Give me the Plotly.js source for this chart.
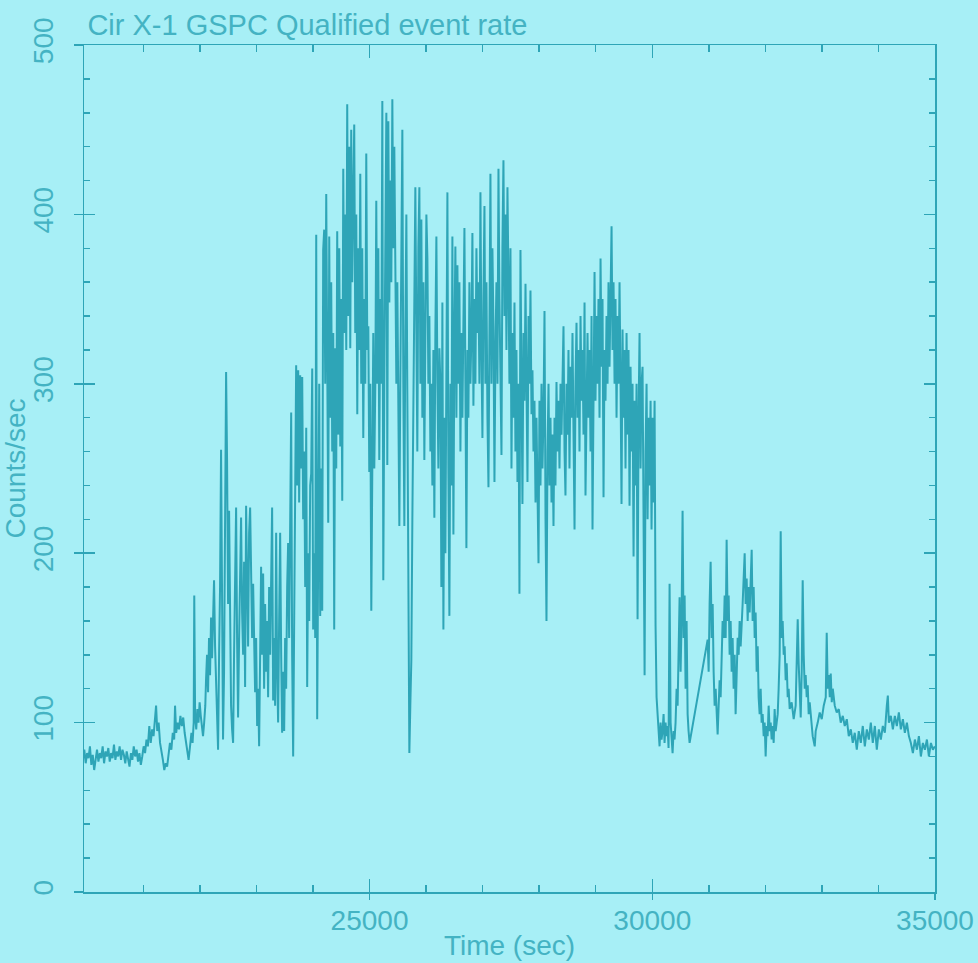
<!DOCTYPE html>
<html>
<head>
<meta charset="utf-8">
<script src="https://cdn.plot.ly/plotly-3.0.1.min.js"></script>
<style>
  html, body { margin: 0; padding: 0; background: #a7eff6; }
  #chart { width: 978px; height: 963px; }
</style>
</head>
<body>
<div id="chart"></div>
<script>
// ---- Data (time in s, rate in counts/s) ----
const timeQuiet = [19930,19955,19980,20005,20030,20055,20080,20105,20130,20155,
20180,20205,20230,20255,20280,20305,20330,20355,20380,20405,
20430,20455,20480,20505,20530,20555,20580,20605,20630,20655,
20680,20705,20730,20755,20780,20805,20830,20855,20880,20905,
20930,20955,20980,21005,21030,21055,21080,21105,21130,21155,
21180,21205,21225,21245,21270,21295,21320,21345,21370,21395,
21420,21445,21470,21495,21520,21545,21560,21580,21605,21630,
21655,21680,21705,21730,21755,21780,21800,21825,21850,21870,
21890,21900,21915,21935,21955,21975,21995,22015,22035,22055,
22075,22095];
const rateQuiet = [78,84,76,82,79,86,75,81,72,80,
84,77,82,79,86,76,83,80,85,77,
82,79,87,78,83,80,86,78,84,81,
76,83,79,74,82,78,86,80,84,77,
82,75,80,86,82,90,86,98,88,96,
92,104,110,95,100,88,84,78,72,76,
74,80,88,84,94,90,110,94,100,96,
104,98,103,94,88,80,78,86,94,88,
100,175,104,96,108,100,112,104,96,92,
100,110];

const timeRise = [22108,22126,22144,22161,22179,22197,22215,22232,22250,22268,
22285,22303,22321,22339,22356,22374,22392,22409,22427,22445,
22463,22480,22498,22516,22534,22551,22569,22587,22604,22622,
22640,22657,22675,22693,22711,22728,22746,22764,22781,22799,
22817,22834,22852,22870,22888,22905,22923,22941,22958,22976,
22994,23012,23029,23047,23065,23082,23100,23118,23135,23153,
23171,23189,23206,23224,23242,23259,23277,23295,23313,23330,
23348,23366,23383,23401,23419,23437,23454,23472,23490,23507,
23525,23543,23560,23578,23596,23614,23631,23649,23667,23685,
23702,23720,23738,23755,23773,23791,23809,23826,23844,23862];
const rateRise = [125,140,118,150,128,162,138,170,184,145,
120,100,84,140,180,261,150,90,130,200,
307,255,170,225,150,110,96,88,140,195,
227,150,103,150,185,221,165,140,195,121,
228,180,145,212,227,190,150,182,140,118,
150,98,120,86,140,192,140,188,120,170,
130,160,115,180,140,190,227,113,150,110,
212,130,100,160,212,140,94,130,95,150,
120,180,206,150,200,283,140,80,160,250,
311,240,308,230,305,250,304,220,260,180];

const timeFlare = [23880,23897,23915,23933,23950,23968,23986,24003,24021,24039,
24057,24074,24092,24110,24127,24145,24163,24180,24198,24216,
24234,24251,24269,24287,24304,24322,24340,24358,24375,24393,
24411,24428,24446,24464,24482,24499,24517,24535,24552,24570,
24588,24605,24623,24641,24659,24676,24694,24712,24729,24747,
24765,24783,24800,24818,24836,24853,24871,24889,24907,24924,
24942,24960,24978,24995,25013,25031,25048,25066,25084,25102,
25119,25137,25155,25172,25190,25208,25226,25243,25261,25279,
25297,25314,25332,25350,25367,25385,25403,25420,25438,25456,
25474,25491,25509,25527,25544,25562,25580,25597,25615,25633,
25651,25668,25686,25704,25721,25739,25757,25775,25792,25810,
25828,25845,25863,25881,25899,25916,25934,25952,25969,25987,
26005,26023,26040,26058,26076,26093,26111,26129,26146,26164,
26182,26200,26217,26235,26253,26270,26288,26306,26324,26341];
const rateFlare = [274,121,200,160,240,247,309,155,200,150,
388,102,200,300,163,250,166,379,391,300,
412,330,218,387,280,360,260,330,155,321,
250,390,270,380,263,350,231,427,330,400,
320,465,340,440,321,450,360,410,453,330,
400,282,380,320,424,300,380,268,350,300,
436,320,334,248,300,166,280,330,250,300,
408,300,380,255,350,300,467,184,300,380,
460,252,455,348,420,360,468,380,440,370,
300,360,250,216,300,380,450,300,216,330,
400,295,160,82,110,137,220,300,360,416,
330,260,380,416,300,397,280,360,255,340,
400,374,300,340,260,300,240,320,221,330,
387,300,250,321,300,180,348,155,280,200];

const timePlateau = [26359,26377,26394,26412,26430,26447,26465,26483,26501,26518,
26536,26554,26571,26589,26607,26625,26642,26660,26678,26695,
26713,26731,26748,26766,26784,26802,26819,26837,26855,26872,
26890,26908,26925,26943,26961,26979,26996,27014,27032,27049,
27067,27085,27103,27120,27138,27156,27173,27191,27209,27226,
27244,27262,27280,27297,27315,27333,27350,27368,27386,27403,
27421,27439,27457,27474,27492,27510,27527,27545,27563,27580,
27598,27616,27634,27651,27669,27687,27704,27722,27740,27758,
27775,27793,27811,27828,27846,27864,27881,27899,27917,27935,
27952,27970,27988,28005,28023,28041,28058,28076,28094,28112,
28129,28147,28165,28182,28200,28218,28235,28253,28271,28288,
28306,28324,28341,28359,28377,28395,28412,28430,28448,28465,
28483,28501,28518,28536,28554,28572,28589,28607,28625,28642,
28660,28678,28695,28713,28731,28749,28766,28784,28802,28819,
28837,28855,28872,28890,28908,28926,28943,28961,28979,28996,
29014,29032,29049,29067,29085,29103,29120,29138,29156,29173,
29191,29209,29226,29244,29262,29280,29297,29315,29333,29350,
29368,29386,29403,29421,29439,29456,29474,29492,29510,29527,
29545,29563,29580,29598,29616,29633,29651,29669,29686,29704,
29722,29740,29757,29775,29793,29810,29828,29846,29864,29881,
29899,29917,29934,29952,29970,29987,30005,30023,30041,30058];
const ratePlateau = [320,413,250,163,300,240,387,211,330,381,
280,370,300,360,260,330,280,340,392,300,
203,320,280,360,300,330,389,287,350,300,
380,330,360,300,413,320,268,350,405,300,
360,280,239,330,424,300,380,334,242,320,
360,300,427,350,300,258,380,432,340,400,
320,416,360,300,380,250,330,280,348,260,
320,242,300,176,379,300,229,330,290,359,
300,242,340,300,355,282,308,260,290,230,
280,216,194,290,240,300,250,280,343,220,
160,260,300,240,280,230,270,216,280,240,
301,260,290,250,300,270,310,334,260,234,
300,270,320,250,310,280,330,260,214,300,
336,280,320,260,340,290,320,270,348,234,
300,330,280,320,260,340,214,300,366,290,
340,300,350,280,374,310,350,233,320,290,
340,300,360,310,350,393,320,360,300,350,
280,340,300,360,300,229,332,280,320,250,
330,270,320,228,310,260,300,198,290,240,
300,161,280,330,250,300,310,230,128,260,
300,220,280,240,290,214,280,230,290,157];

const timeDecay = [30076,30094,30111,30129,30147,30164,30182,30200,30217,30235,
30253,30271,30288,30306,30324,30341,30359,30377,30394,30412,
30430,30448,30465,30483,30501,30518,30536,30554,30572,30589,
30607,30625,30642,30660,30979,30997,31014,31032,
31050,31068,31085,31103,31121,31138,31156,31174,31191,31209,
31227,31244,31262,31280,31298,31315,31333,31351,31368,31386,
31404,31421,31439,31457,31474,31492,31510,31528,31545,31563,
31581,31598,31616,31634,31651,31669,31687,31704,31722,31740,
31758,31775,31793,31811,31828,31846,31864,31881,31899,31917,
31934,31952,31970,31987,32005,32023,32040,32058,32076,32094,
32111,32129,32147,32164,32182,32200,32218,32235,32253,32271,
32288,32306,32324,32341,32359,32377,32395,32412,32430];
const rateDecay = [115,105,92,86,100,90,95,105,88,100,
92,98,85,182,100,88,82,95,90,100,
120,110,140,174,130,160,225,150,175,120,
160,105,95,88,149,130,170,195,
150,170,130,110,120,100,93,110,125,115,
140,160,150,175,150,208,160,175,140,160,
130,150,120,140,105,130,150,140,160,145,
165,170,185,200,170,185,160,180,165,190,
202,160,180,150,165,130,145,115,105,120,
100,105,92,100,80,98,92,110,95,100,
90,98,88,108,95,100,105,120,140,213,
150,160,140,145,125,135,115,120,108];

const timeTail = [32465,32501,32536,32572,32589,32607,32625,32643,32660,32678,
32696,32713,32731,32749,32766,32784,32820,32837,32873,32890,
32926,32961,32997,33032,33068,33085,33103,33121,33139,33156,
33174,33192,33227,33262,33298,33333,33369,33404,33440,33475,
33511,33546,33581,33617,33652,33688,33723,33759,33794,33830,
33865,33900,33936,33971,34007,34042,34077,34113,34148,34166,
34184,34219,34255,34290,34325,34361,34396,34432,34467,34503,
34538,34573,34609,34644,34680,34715,34750,34786,34821,34857,
34892,34928,34963,34998];
const rateTail = [112,102,110,161,135,120,103,130,184,140,
120,128,115,122,105,112,100,92,86,95,
100,106,102,110,115,153,120,128,115,129,
112,120,110,106,108,100,104,98,102,92,
96,88,94,84,95,88,98,86,96,90,
100,88,98,84,96,90,98,94,110,116,
100,104,96,104,98,106,96,102,94,100,
92,88,82,90,84,92,80,88,84,90,
80,88,84,86];

const xMajorTicks = [25000, 30000, 35000];
const xMinorTicks = [21000, 22000, 23000, 24000, 26000, 27000, 28000, 29000, 31000, 32000, 33000, 34000];
const yMajorTicks = [0, 100, 200, 300, 400, 500];
const chartTitle = 'Cir X-1 GSPC Qualified event rate';
const xTitle = 'Time (sec)';
const yTitle = 'Counts/sec';

// ---- Assemble ----
const timeAll = [].concat(timeQuiet, timeRise, timeFlare, timePlateau, timeDecay, timeTail);
const rateAll = [].concat(rateQuiet, rateRise, rateFlare, ratePlateau, rateDecay, rateTail);

const BG = '#a7eff6';
const INK = '#2ea5b7';
const TXT = '#44b3c3';
const FONT = 'Liberation Sans, Arial, sans-serif';
const xRange = [19950, 35000];
const yRange = [0, 500];

const traces = [
  {
    x: timeAll, y: rateAll, type: 'scatter', mode: 'lines',
    line: {color: INK, width: 2},
    hoverinfo: 'skip', showlegend: false
  },
  { x: [], y: [], xaxis: 'x2', yaxis: 'y2', type: 'scatter', mode: 'lines', showlegend: false }
];

const layout = {
  width: 978, height: 963,
  paper_bgcolor: BG, plot_bgcolor: BG,
  margin: {l: 84, r: 43, t: 45, b: 71},
  showlegend: false,
  font: {family: FONT, color: TXT, size: 28},
  title: {
    text: chartTitle,
    x: 0.004, xref: 'paper', xanchor: 'left',
    y: 0.974, yref: 'container', yanchor: 'middle',
    font: {family: FONT, size: 29, color: TXT}
  },
  xaxis: {
    range: xRange, autorange: false,
    showline: true, linecolor: INK, linewidth: 1.5, mirror: 'allticks',
    ticks: 'inside', ticklen: 13, tickwidth: 1.5, tickcolor: INK,
    tickmode: 'array', tickvals: xMajorTicks, ticktext: xMajorTicks.map(String),
    tickfont: {family: FONT, size: 28, color: TXT},
    ticklabelstandoff: 3,
    showgrid: false, zeroline: false,
    minor: {tickmode: 'array', tickvals: xMinorTicks, ticks: 'inside', ticklen: 7, tickwidth: 1.5, tickcolor: INK, showgrid: false},
    title: {text: xTitle, font: {family: FONT, size: 28, color: TXT}, standoff: 0}
  },
  yaxis: {
    range: yRange, autorange: false,
    showline: true, linecolor: INK, linewidth: 1.5, mirror: 'allticks',
    ticks: 'inside', ticklen: 11, tickwidth: 1.5, tickcolor: INK,
    tickmode: 'array', tickvals: yMajorTicks, ticktext: yMajorTicks.map(String),
    tickangle: -90,
    tickfont: {family: FONT, size: 28, color: TXT},
    ticklabelstandoff: 18,
    showgrid: false, zeroline: false,
    minor: {tickmode: 'linear', tick0: 0, dtick: 20, ticks: 'inside', ticklen: 6, tickwidth: 1.5, tickcolor: INK, showgrid: false},
    title: {text: yTitle, font: {family: FONT, size: 28, color: TXT}, standoff: 0}
  },
  xaxis2: {
    overlaying: 'x', anchor: 'y', side: 'bottom',
    range: xRange, autorange: false,
    tickmode: 'array', tickvals: xMajorTicks,
    ticks: 'outside', ticklen: 7, tickwidth: 1.5, tickcolor: INK,
    showticklabels: false, showline: false, showgrid: false, zeroline: false
  },
  yaxis2: {
    overlaying: 'y', anchor: 'x', side: 'left',
    range: yRange, autorange: false,
    tickmode: 'array', tickvals: yMajorTicks,
    ticks: 'outside', ticklen: 9, tickwidth: 1.5, tickcolor: INK,
    showticklabels: false, showline: false, showgrid: false, zeroline: false
  }
};

Plotly.newPlot('chart', traces, layout, {displayModeBar: false, staticPlot: true});
</script>
</body>
</html>
